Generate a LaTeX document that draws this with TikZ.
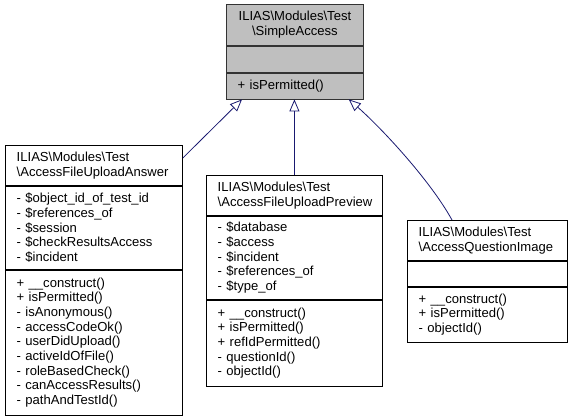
\documentclass[tikz,border=0pt]{standalone}
\usepackage{fontspec}
\setmainfont{Liberation Sans}
\usepackage{tikz}
\usetikzlibrary{arrows.meta}
\hyphenpenalty=10000
\definecolor{doxblue}{RGB}{25,25,112}
\definecolor{doxgray}{RGB}{191,191,191}
\tikzset{
    CB/.style ={rectangle, draw, anchor=north west, inner ysep=0pt, inner xsep=8.5pt, align=left, line width=0.6pt, font=\fontsize{9.8}{11}\selectfont},
    CG/.style ={CB, fill=doxgray, draw=black!80},
    WU/.style ={CB, text width=115.75pt},
    WP/.style ={CB, text width=115pt},
    WQ/.style ={CB, text width=103pt},
    IN/.style ={draw=doxblue, line width=0.6pt, -{Triangle[open, length=9pt, width=7.5pt]}}
}

\begin{document}
\begin{tikzpicture}[x=0.75pt,y=-0.75pt]
    \useasboundingbox (0,0) rectangle (573,419);
    \node[CG, minimum width=102.75pt, minimum height=30.75pt, align=center] (sT) at (226,4) {ILIAS\textbackslash Modules\textbackslash Test\\\textbackslash SimpleAccess};
    \node[CG, minimum width=102.75pt, minimum height=19.5pt] (sA) at (sT.south west) {};
    \node[CG, text width=85.75pt, minimum height=19.5pt] (sM) at (sA.south west) {+ isPermitted()};

    \node[WU, minimum height=30pt] (uT) at (5,145) {ILIAS\textbackslash Modules\textbackslash Test\\\textbackslash AccessFileUploadAnswer};
    \node[WU, minimum height=62.25pt] (uA) at (uT.south west) {- \$object\_id\_of\_test\_id\\- \$references\_of\\- \$session\\- \$checkResultsAccess\\- \$incident};
    \node[WU, minimum height=108.75pt] (uM) at (uA.south west) {+ \_\_construct()\\+ isPermitted()\\- isAnonymous()\\- accessCodeOk()\\- userDidUpload()\\- activeIdOfFile()\\- roleBasedCheck()\\- canAccessResults()\\- pathAndTestId()};

    \node[WP, minimum height=30pt] (pT) at (206,175) {ILIAS\textbackslash Modules\textbackslash Test\\\textbackslash AccessFileUploadPreview};
    \node[WP, minimum height=62.25pt] (pA) at (pT.south west) {- \$database\\- \$access\\- \$incident\\- \$references\_of\\- \$type\_of};
    \node[WP, minimum height=64.5pt] (pM) at (pA.south west) {+ \_\_construct()\\+ isPermitted()\\+ refIdPermitted()\\- questionId()\\- objectId()};

    \node[WQ, minimum height=30pt] (qT) at (407,220) {ILIAS\textbackslash Modules\textbackslash Test\\\textbackslash AccessQuestionImage};
    \node[WQ, minimum height=18.75pt] (qA) at (qT.south west) {};
    \node[WQ, minimum height=41.25pt] (qM) at (qA.south west) {+ \_\_construct()\\+ isPermitted()\\- objectId()};

    \draw[IN] ([yshift=-9.75pt]uT.north east) -- ([xshift=12pt]sM.south west);
    \draw[IN] (pT.north) -- (pT.north |- sM.south);
    \draw[IN] ([xshift=33.75pt]qT.north west) .. controls +(-22,-40) and +(32,28) .. ([xshift=-11.25pt]sM.south east);
\end{tikzpicture}
\end{document}
